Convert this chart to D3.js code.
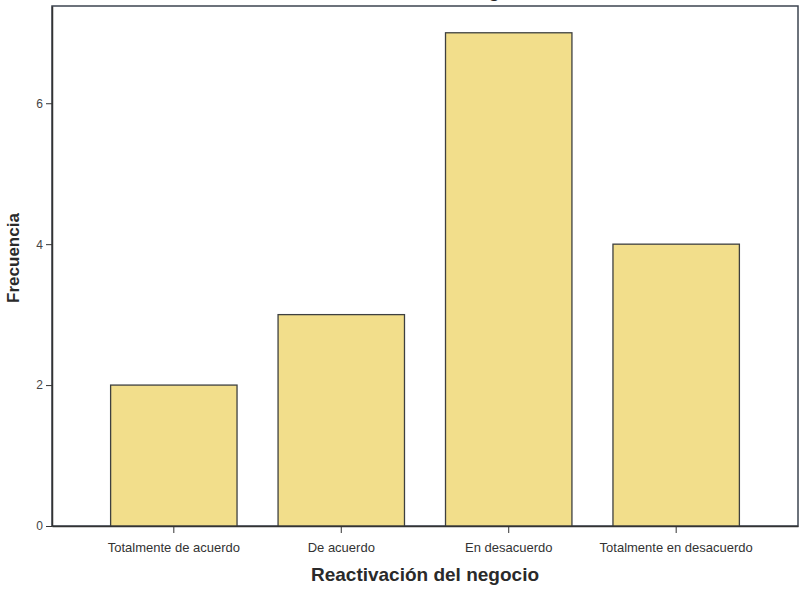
<!DOCTYPE html>
<html><head><meta charset="utf-8">
<script src="https://cdn.jsdelivr.net/npm/d3@7/dist/d3.min.js"></script>
<style>body{margin:0;background:#fff;} svg{display:block;}</style>
</head><body>
<svg id="c" width="802" height="589"></svg>
<script>
const categories = ["Totalmente de acuerdo", "De acuerdo", "En desacuerdo", "Totalmente en desacuerdo"];
const values = [2, 3, 7, 4];
const yTicks = [0, 2, 4, 6];
const chartTitle = "Reactivación del negocio";
const xTitle = "Reactivación del negocio";
const yTitle = "Frecuencia";

const svg = d3.select("#c");
const mLeft = 52, mRight = 798, mTop = 6, mBottom = 526;
const x = d3.scaleBand().domain(categories).range([mLeft, mRight]).paddingInner(0.245).paddingOuter(0.35);
const y = d3.scaleLinear().domain([0, 7.38]).range([mBottom, mTop]);
const font = "'Liberation Sans', Arial, sans-serif";

// chart title, clipped by the top edge as in the reference (only the descender shows)
svg.append("text").attr("x", 425).attr("y", -3).attr("text-anchor", "middle")
  .attr("font-family", font).attr("font-weight", "bold").attr("font-size", 19).attr("fill", "#222").text(chartTitle);

// frame
svg.append("rect").attr("x", mLeft).attr("y", mTop).attr("width", mRight - mLeft).attr("height", mBottom - mTop)
  .attr("fill", "none").attr("stroke", "#3d4450").attr("stroke-width", 1.5);

// bars
svg.selectAll("rect.bar").data(values).enter().append("rect").attr("class", "bar")
  .attr("x", (d, i) => x(categories[i])).attr("width", x.bandwidth())
  .attr("y", d => y(d)).attr("height", d => y(0) - y(d))
  .attr("fill", "#f2de8b").attr("stroke", "#3e4040").attr("stroke-width", 1.3);

// y axis
const ya = svg.append("g").attr("transform", `translate(${mLeft},0)`)
  .call(d3.axisLeft(y).tickValues(yTicks).tickSize(6).tickSizeOuter(0).tickPadding(3).tickFormat(d3.format("d")));
ya.select(".domain").attr("stroke", "#333").attr("stroke-width", 1.5);
ya.selectAll(".tick line").attr("stroke", "#333");
ya.selectAll(".tick text").attr("font-family", font).attr("font-size", 12).attr("fill", "#444");

// x axis
const xa = svg.append("g").attr("transform", `translate(0,${mBottom})`)
  .call(d3.axisBottom(x).tickSize(7).tickSizeOuter(0).tickPadding(10));
xa.select(".domain").attr("stroke", "#333").attr("stroke-width", 1.5);
xa.selectAll(".tick line").attr("stroke", "#333");
xa.selectAll(".tick text").attr("font-family", font).attr("font-size", 13).attr("fill", "#333");

// axis titles
svg.append("text").attr("x", 425).attr("y", 581).attr("text-anchor", "middle")
  .attr("font-family", font).attr("font-weight", "bold").attr("font-size", 19).attr("fill", "#2a2a2a").text(xTitle);
svg.append("text").attr("transform", "translate(19,258) rotate(-90)").attr("text-anchor", "middle")
  .attr("font-family", font).attr("font-weight", "bold").attr("font-size", 17).attr("fill", "#2a2a2a").text(yTitle);
</script>
</body></html>
